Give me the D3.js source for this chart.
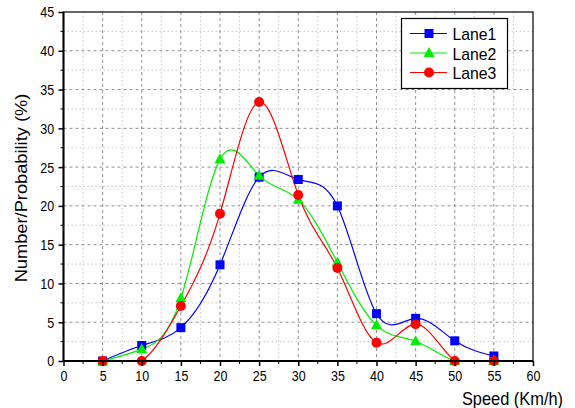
<!DOCTYPE html>
<html><head><meta charset="utf-8">
<script src="https://cdn.jsdelivr.net/npm/d3@7/dist/d3.min.js"></script>
<style>body{margin:0;background:#fff}svg{display:block;font-family:"Liberation Sans",Arial,sans-serif}</style>
</head><body><svg id="c" width="575" height="408"></svg>
<script>
const speeds = [5,10,15,20,25,30,35,40,45,50,55];
const lane1 = [0,2.0,4.3,12.4,23.7,23.4,20.0,6.1,5.5,2.6,0.65];
const lane2 = [0,1.5,8.1,26.0,23.9,20.8,12.7,4.6,2.55,0,0];
const lane3 = [0,0,7.1,19.0,33.4,21.4,12.0,2.35,4.75,0,0];
const xTicks = d3.range(0,61,5);
const yTicks = d3.range(0,46,5);
const seriesNames = ["Lane1","Lane2","Lane3"];

const svg = d3.select("#c");
const L=63.5, R=533, T=12, B=361;
const SY = 1.1;
const x = d3.scaleLinear().domain([0,60]).range([L,R]);
const y = d3.scaleLinear().domain([0,45]).range([B,T]);

// grid
const g = svg.append("g");
const minorX = d3.range(2.5,60,5), minorY = d3.range(2.5,45,5);
g.selectAll(".mx").data(minorX).join("line").attr("x1",d=>x(d)).attr("x2",d=>x(d)).attr("y1",T).attr("y2",B)
 .attr("stroke","#c8c8c8").attr("stroke-dasharray","1.5,2.5").attr("stroke-width",1);
g.selectAll(".my").data(minorY).join("line").attr("y1",d=>y(d)).attr("y2",d=>y(d)).attr("x1",L).attr("x2",R)
 .attr("stroke","#c8c8c8").attr("stroke-dasharray","1.5,2.5").attr("stroke-width",1);
g.selectAll(".Mx").data(xTicks.slice(1,-1)).join("line").attr("x1",d=>x(d)).attr("x2",d=>x(d)).attr("y1",T).attr("y2",B)
 .attr("stroke","#909090").attr("stroke-dasharray","3,3").attr("stroke-width",1);
g.selectAll(".My").data(yTicks.slice(1,-1)).join("line").attr("y1",d=>y(d)).attr("y2",d=>y(d)).attr("x1",L).attr("x2",R)
 .attr("stroke","#909090").attr("stroke-dasharray","3,3").attr("stroke-width",1);

// clip
svg.append("clipPath").attr("id","clip").append("rect").attr("x",L).attr("y",T).attr("width",R-L).attr("height",B-T);

const colors = ["#0000ff","#00ee00","#ff0000"];
const data = [lane1,lane2,lane3];
const line = d3.line().x((d,i)=>x(speeds[i])).y(d=>y(d)).curve(d3.curveNatural);
data.forEach((s,k)=>{
  svg.append("path").attr("d",line(s)).attr("fill","none").attr("stroke",colors[k]).attr("stroke-width",1.2).attr("clip-path","url(#clip)");
});
function marker(sel,k,cx,cy){
  if(k===0) sel.append("rect").attr("x",cx-4.5).attr("y",cy-4.5).attr("width",9).attr("height",9).attr("fill",colors[0]);
  else if(k===1) sel.append("path").attr("d",`M${cx},${cy-6}L${cx+5.5},${cy+4}L${cx-5.5},${cy+4}Z`).attr("fill",colors[1]);
  else sel.append("circle").attr("cx",cx).attr("cy",cy).attr("r",5).attr("fill",colors[2]);
}
data.forEach((s,k)=>{
  const mg = svg.append("g");
  s.forEach((v,i)=>marker(mg,k,x(speeds[i]),y(v)));
});

// axes frame
svg.append("rect").attr("x",L).attr("y",T).attr("width",R-L).attr("height",B-T).attr("fill","none").attr("stroke","#000").attr("stroke-width",1.2);
svg.append("line").attr("x1",L).attr("x2",R).attr("y1",B).attr("y2",B).attr("stroke","#000").attr("stroke-width",2);
svg.append("line").attr("x1",L).attr("x2",L).attr("y1",T).attr("y2",B).attr("stroke","#000").attr("stroke-width",2);

const xa = svg.append("g").attr("transform",`translate(0,${B})`)
 .call(d3.axisBottom(x).tickValues(xTicks).tickSize(5).tickFormat(d3.format("d")));
xa.select(".domain").remove();
xa.selectAll("text").attr("font-size",12.5).attr("fill","#000").attr("y",7).attr("dy","0.9em").attr("transform",`scale(1,${SY})`);
xa.selectAll("line").attr("stroke-width",1.5);
svg.append("g").selectAll("line").data(minorX).join("line").attr("x1",d=>x(d)).attr("x2",d=>x(d)).attr("y1",B).attr("y2",B+3).attr("stroke","#000");

const ya = svg.append("g").attr("transform",`translate(${L},0)`)
 .call(d3.axisLeft(y).tickValues(yTicks).tickSize(5).tickFormat(d3.format("d")));
ya.select(".domain").remove();
ya.selectAll(".tick text").attr("font-size",12.5).attr("fill","#000").attr("dx","-0.1em").attr("dy","0.36em");
ya.selectAll(".tick").each(function(d){
  d3.select(this).select("text").attr("transform",`scale(1,${SY})`);
});
ya.selectAll("line").attr("stroke-width",1.5);
svg.append("g").selectAll("line").data(minorY).join("line").attr("y1",d=>y(d)).attr("y2",d=>y(d)).attr("x1",L-3).attr("x2",L).attr("stroke","#000");

svg.append("text").attr("transform",`translate(563,405) scale(1,${SY})`).attr("text-anchor","end").attr("font-size",16.4).text("Speed (Km/h)");
svg.append("text").attr("transform",`translate(27,188) rotate(-90) scale(${SY},1)`).attr("text-anchor","middle").attr("font-size",16.6).text("Number/Probability (%)");

// legend
const lg = svg.append("g");
lg.append("rect").attr("x",401.5).attr("y",18.5).attr("width",106).attr("height",70).attr("fill","#fff").attr("stroke","#000").attr("stroke-width",1.2);
seriesNames.forEach((n,k)=>{
  const yy = 33.5+k*19.5;
  lg.append("line").attr("x1",410).attr("x2",447).attr("y1",yy).attr("y2",yy).attr("stroke",colors[k]).attr("stroke-width",1.2);
  marker(lg,k,429,yy);
  lg.append("text").attr("transform",`translate(452.5,${yy+6.5}) scale(1,${SY})`).attr("font-size",15.8).text(n);
});
</script></body></html>
